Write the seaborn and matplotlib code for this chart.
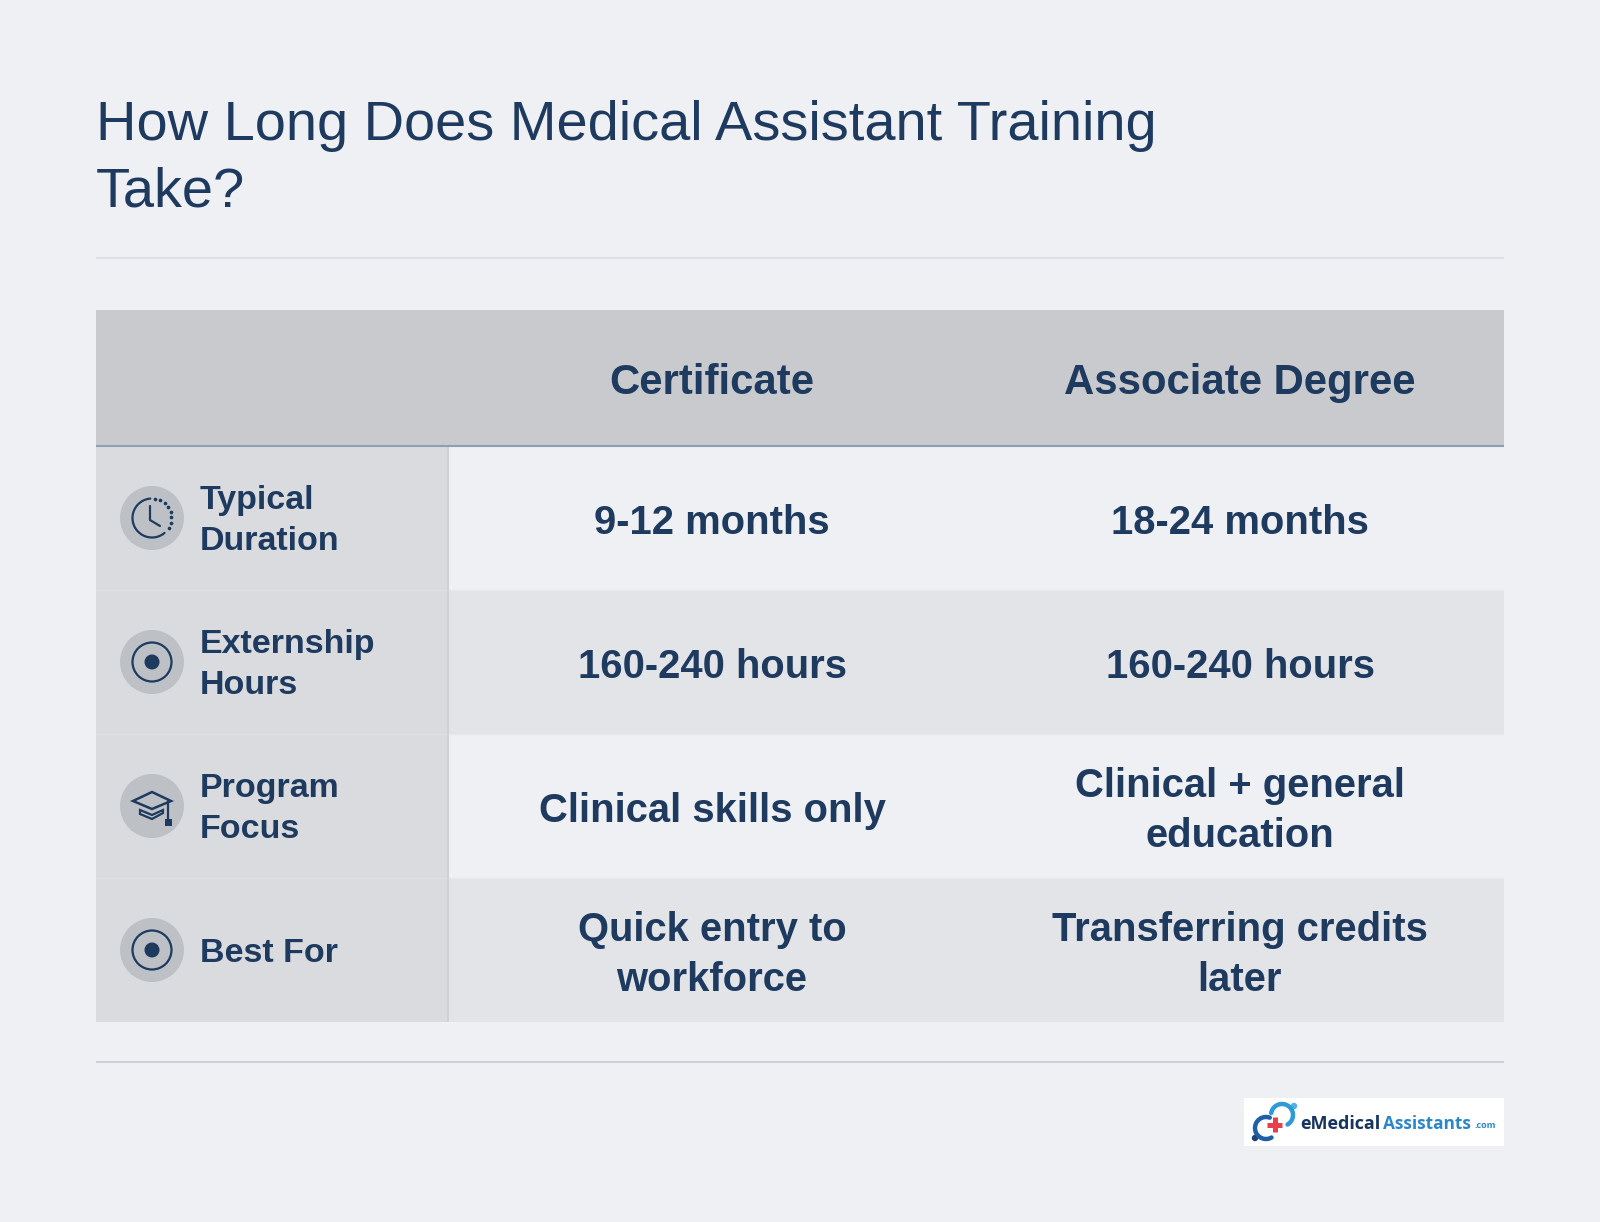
import numpy as np
import matplotlib
matplotlib.use("Agg")
import matplotlib.pyplot as plt
from matplotlib.colors import ListedColormap
from matplotlib.patches import Circle, Rectangle, Polygon
import seaborn as sns

TITLE = "How Long Does Medical Assistant Training\nTake?"
COLUMNS = ["Certificate", "Associate Degree"]
ROW_LABELS = ["Typical\nDuration", "Externship\nHours", "Program\nFocus", "Best For"]
ICONS = ["clock", "target", "cap", "target"]
CERTIFICATE = ["9-12 months", "160-240 hours", "Clinical skills only", "Quick entry to\nworkforce"]
ASSOCIATE = ["18-24 months", "160-240 hours", "Clinical + general\neducation", "Transferring credits\nlater"]
ROW_SHADE = [0, 1, 0, 1]

W, H = 1600, 1222
BG = "#EEF0F4"
NAVY = "#1E3A5F"
FONT = ["Liberation Sans", "DejaVu Sans"]

sns.set_theme(style="white")
plt.rcParams["font.family"] = FONT
fig = plt.figure(figsize=(W / 100, H / 100), dpi=100, facecolor=BG)


def px_axes(x0, y0, x1, y1, z=1):
    ax = fig.add_axes([x0 / W, 1 - y1 / H, (x1 - x0) / W, (y1 - y0) / H], zorder=z)
    return ax


def nudge(ax, dy):
    for t in ax.texts:
        x, y = t.get_position()
        t.set_position((x, y + dy))


# value cells
ax_v = px_axes(448, 446, 1504, 1022)
shade = np.array([[s, s] for s in ROW_SHADE])
annot = np.array([[c, a] for c, a in zip(CERTIFICATE, ASSOCIATE)], dtype=object)
sns.heatmap(shade, ax=ax_v, cmap=ListedColormap(["#EEF0F4", "#E2E4E8"]), vmin=0, vmax=1,
            cbar=False, annot=annot, fmt="", xticklabels=False, yticklabels=False,
            annot_kws=dict(color=NAVY, fontsize=28.8, fontweight="bold", linespacing=1.37, family=FONT))
ax_v.axis("off")
nudge(ax_v, 5 / 144)

# row label column
ax_l = px_axes(96, 446, 448, 1022)
sns.heatmap(np.zeros((4, 1)), ax=ax_l, cmap=ListedColormap(["#D9DBDF"]), vmin=0, vmax=1,
            cbar=False, xticklabels=False, yticklabels=False)
ax_l.axis("off")

# header band
ax_h = px_axes(448, 310, 1504, 446)
sns.heatmap(np.zeros((1, 2)), ax=ax_h, cmap=ListedColormap(["#C8CACE"]), vmin=0, vmax=1,
            cbar=False, annot=np.array([COLUMNS], dtype=object), fmt="",
            xticklabels=False, yticklabels=False,
            annot_kws=dict(color=NAVY, fontsize=30.2, fontweight="bold", family=FONT))
ax_h.axis("off")
nudge(ax_h, 5 / 136)

# overlay in pixel coordinates
ov = px_axes(0, 0, W, H, z=5)
ov.set_xlim(0, W)
ov.set_ylim(H, 0)
ov.axis("off")
ov.patch.set_alpha(0)

ov.add_patch(Rectangle((96, 310), 352, 136, fc="#C8CACE", ec="none"))
ov.plot([96, 1504], [258, 258], color="#DCDFE3", lw=1.5, solid_capstyle="butt")
ov.plot([96, 1504], [1062, 1062], color="#CDD2D7", lw=1.5, solid_capstyle="butt")
ov.plot([448, 448], [446, 1022], color="#CFD1D6", lw=1.5, solid_capstyle="butt")
ov.plot([96, 1504], [446, 446], color="#8E9FB5", lw=1.5, solid_capstyle="butt")
for i in range(1, 4):
    y = 446 + 144 * i
    ov.plot([96, 447], [y, y], color="#DCDEE2", lw=1, solid_capstyle="butt")
    ov.plot([449, 1504], [y, y], color="#E6E8EB", lw=1, solid_capstyle="butt")

ov.text(96, 159.5, TITLE, fontsize=40.3, color=NAVY, va="center", ha="left", linespacing=1.37)


def draw_icon(kind, cx, cy):
    ov.add_patch(Circle((cx, cy), 32, fc="#BDC1C5", ec="none"))
    if kind == "target":
        ov.add_patch(Circle((cx, cy), 19.5, fc="none", ec=NAVY, lw=1.6))
        ov.add_patch(Circle((cx, cy), 7.5, fc=NAVY, ec="none"))
    elif kind == "clock":
        t = np.radians(np.linspace(95, 310, 80))
        ov.plot(cx + 19.5 * np.cos(t), cy - 19.5 * np.sin(t), color=NAVY, lw=1.6)
        t = np.radians(np.arange(82, -38, -16))
        ov.scatter(cx + 19.5 * np.cos(t), cy - 19.5 * np.sin(t), s=7, color=NAVY, linewidths=0)
        ov.plot([cx - 2, cx - 2, cx + 8], [cy - 12, cy + 2, cy + 8], color=NAVY, lw=1.6)
    else:
        ov.add_patch(Polygon([(cx - 19, cy - 5), (cx, cy - 14), (cx + 19, cy - 5), (cx, cy + 3)],
                             fc="none", ec=NAVY, lw=1.8))
        ov.add_patch(Polygon([(cx - 12, cy + 4), (cx, cy + 9), (cx + 11, cy + 4), (cx + 11, cy + 7),
                              (cx, cy + 13), (cx - 12, cy + 8)], fc="none", ec=NAVY, lw=1.6))
        ov.plot([cx + 16, cx + 16], [cy - 5, cy + 13], color=NAVY, lw=1.6)
        ov.add_patch(Rectangle((cx + 12.5, cy + 13), 7, 7, fc=NAVY, ec="none"))


for i, (label, icon) in enumerate(zip(ROW_LABELS, ICONS)):
    cy = 518 + 144 * i
    draw_icon(icon, 152, cy)
    ov.text(200, cy + 3, label, fontsize=24.5, fontweight="bold", color=NAVY, va="center", ha="left",
            linespacing=1.44)

# logo badge
ov.add_patch(Rectangle((1244, 1098), 260, 48, fc="white", ec="none"))
t = np.radians(np.linspace(-60, 170, 60))
ov.plot(1282 + 11 * np.cos(t), 1115 - 11 * np.sin(t), color="#2E9BD6", lw=3.2, solid_capstyle="round")
t = np.radians(np.linspace(70, 300, 60))
ov.plot(1266 + 11 * np.cos(t), 1128 - 11 * np.sin(t), color="#1F5FA8", lw=3.2, solid_capstyle="round")
ov.plot([1267, 1282], [1124.5, 1124.5], color="#E8404A", lw=3.6, solid_capstyle="butt")
ov.plot([1275, 1275], [1117, 1132], color="#E8404A", lw=3.6, solid_capstyle="butt")
ov.add_patch(Circle((1294, 1106), 3.2, fc="#4DB3E6", ec="none"))
ov.add_patch(Circle((1255, 1138), 3.2, fc="#1F3F7A", ec="none"))
LOGO_FONT = ["Open Sans", "DejaVu Sans"]
ov.text(1300, 1124, "eMedical", fontsize=13, fontweight="bold", color="#17345F", va="center", ha="left", family=LOGO_FONT)
ov.text(1383, 1124, "Assistants", fontsize=12.4, fontweight="bold", color="#2A86CB", va="center", ha="left", family=LOGO_FONT)
ov.text(1474.5, 1126, ".com", fontsize=6.5, fontweight="bold", color="#2A86CB", va="center", ha="left", family=LOGO_FONT)

fig.savefig("out.png", dpi=100, facecolor=BG)
